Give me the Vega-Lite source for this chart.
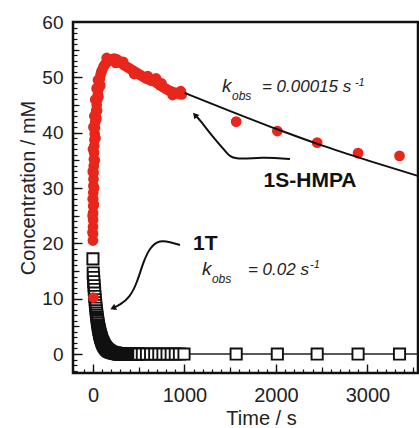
{
  "$schema": "https://vega.github.io/schema/vega-lite/v6.json",
  "width": 345,
  "height": 351,
  "autosize": {"type": "none"},
  "padding": {"left": 73, "top": 22, "right": 1, "bottom": 55},
  "background": "white",
  "config": {
    "view": {"stroke": "#111111", "strokeWidth": 2.5},
    "axis": {"grid": false, "domain": false, "labelFont": "Liberation Sans", "titleFont": "Liberation Sans", "tickColor": "#111111", "labelColor": "#222222", "titleColor": "#222222", "titleFontWeight": "normal", "labelOverlap": false, "labelFlush": false, "labelBound": false}
  },
  "resolve": {"axis": {"x": "independent", "y": "independent"}},
  "datasets": {
    "red": [
      {"t": 0, "c": 20.5}, {"t": 1, "c": 21.7}, {"t": 1, "c": 23}, {"t": 2, "c": 24.2}, {"t": 2, "c": 25.5}, {"t": 3, "c": 26.7}, {"t": 3, "c": 28}, {"t": 4, "c": 29.2}, {"t": 5, "c": 30.4}, {"t": 6, "c": 31.6}, {"t": 7, "c": 32.8}, {"t": 9, "c": 34}, {"t": 10, "c": 35.2}, {"t": 12, "c": 36.4}, {"t": 14, "c": 37.6}, {"t": 16, "c": 38.7}, {"t": 19, "c": 39.8}, {"t": 22, "c": 40.9}, {"t": 26, "c": 42}, {"t": 30, "c": 43}, {"t": 35, "c": 44}, {"t": 41, "c": 45}, {"t": 47, "c": 46}, {"t": 54, "c": 47}, {"t": 61, "c": 48}, {"t": 68, "c": 48.9}, {"t": 76, "c": 49.8}, {"t": 84, "c": 50.5}, {"t": 92, "c": 51},
      {"t": -5, "c": 22}, {"t": -4, "c": 25}, {"t": -3, "c": 28}, {"t": 10, "c": 27}, {"t": 12, "c": 30}, {"t": -2, "c": 33}, {"t": 20, "c": 35}, {"t": 0, "c": 37}, {"t": 28, "c": 39}, {"t": 5, "c": 41}, {"t": 15, "c": 43}, {"t": 38, "c": 42.5}, {"t": 25, "c": 46}, {"t": 45, "c": 44}, {"t": 40, "c": 48}, {"t": 60, "c": 46.5}, {"t": 55, "c": 49.5}, {"t": 80, "c": 48.5},
      {"t": 100, "c": 51.3}, {"t": 115, "c": 51.9}, {"t": 130, "c": 52.3}, {"t": 150, "c": 52.7}, {"t": 170, "c": 53.0}, {"t": 190, "c": 53.2}, {"t": 210, "c": 53.3}, {"t": 230, "c": 53.4}, {"t": 255, "c": 53.3}, {"t": 280, "c": 53.0}, {"t": 310, "c": 52.6}, {"t": 340, "c": 52.2}, {"t": 370, "c": 51.9}, {"t": 400, "c": 51.6}, {"t": 430, "c": 51.3}, {"t": 460, "c": 51.0}, {"t": 490, "c": 50.7}, {"t": 520, "c": 50.4}, {"t": 550, "c": 50.1}, {"t": 580, "c": 49.8}, {"t": 610, "c": 49.6}, {"t": 640, "c": 49.4}, {"t": 670, "c": 49.3}, {"t": 700, "c": 49.0}, {"t": 730, "c": 48.6}, {"t": 760, "c": 48.3}, {"t": 790, "c": 48.0}, {"t": 820, "c": 47.7}, {"t": 850, "c": 47.5}, {"t": 880, "c": 47.3}, {"t": 910, "c": 47.2}, {"t": 940, "c": 47.0}, {"t": 970, "c": 46.9},
      {"t": 150, "c": 53.5}, {"t": 250, "c": 52.6}, {"t": 330, "c": 52.8}, {"t": 450, "c": 50.6}, {"t": 600, "c": 50.2}, {"t": 690, "c": 49.8}, {"t": 750, "c": 48.9}, {"t": 870, "c": 46.8}, {"t": 960, "c": 47.5},
      {"t": 5, "c": 10.2},
      {"t": 1565, "c": 42.0}, {"t": 2015, "c": 40.3}, {"t": 2450, "c": 38.2}, {"t": 2897, "c": 36.3}, {"t": 3350, "c": 35.8}
    ],
    "black": [
      {"t": 0, "c": 17.2}, {"t": 3, "c": 14.64}, {"t": 6, "c": 13.83}, {"t": 9, "c": 13.06}, {"t": 12, "c": 12.34}, {"t": 15, "c": 11.66}, {"t": 18, "c": 11.01}, {"t": 21, "c": 10.4}, {"t": 24, "c": 9.82}, {"t": 27, "c": 9.28}, {"t": 30, "c": 8.77}, {"t": 33, "c": 8.28}, {"t": 36, "c": 7.82}, {"t": 39, "c": 7.39}, {"t": 42, "c": 6.98}, {"t": 45, "c": 6.59}, {"t": 48, "c": 6.23}, {"t": 51, "c": 5.88}, {"t": 54, "c": 5.56}, {"t": 57, "c": 5.25}, {"t": 60, "c": 4.96}, {"t": 63, "c": 4.68}, {"t": 66, "c": 4.42}, {"t": 69, "c": 4.18}, {"t": 72, "c": 3.95}, {"t": 75, "c": 3.73}, {"t": 78, "c": 3.52}, {"t": 81, "c": 3.33}, {"t": 84, "c": 3.14}, {"t": 87, "c": 2.97}, {"t": 90, "c": 2.8}, {"t": 94, "c": 2.6}, {"t": 98, "c": 2.41}, {"t": 102, "c": 2.23}, {"t": 106, "c": 2.07}, {"t": 110, "c": 1.92}, {"t": 115, "c": 1.74}, {"t": 120, "c": 1.59}, {"t": 125, "c": 1.44}, {"t": 130, "c": 1.31}, {"t": 136, "c": 1.17}, {"t": 142, "c": 1.04}, {"t": 148, "c": 0.93}, {"t": 155, "c": 0.82}, {"t": 162, "c": 0.71}, {"t": 170, "c": 0.61}, {"t": 178, "c": 0.53}, {"t": 186, "c": 0.45}, {"t": 195, "c": 0.38}, {"t": 204, "c": 0.32}, {"t": 213, "c": 0.27}, {"t": 222, "c": 0.23}, {"t": 232, "c": 0.19}, {"t": 242, "c": 0.16}, {"t": 252, "c": 0.13}, {"t": 262, "c": 0.1},
      {"t": 272, "c": 0}, {"t": 282, "c": 0}, {"t": 292, "c": 0}, {"t": 302, "c": 0}, {"t": 312, "c": 0}, {"t": 322, "c": 0}, {"t": 332, "c": 0}, {"t": 342, "c": 0}, {"t": 352, "c": 0}, {"t": 362, "c": 0}, {"t": 372, "c": 0}, {"t": 382, "c": 0}, {"t": 392, "c": 0}, {"t": 402, "c": 0}, {"t": 412, "c": 0}, {"t": 422, "c": 0}, {"t": 432, "c": 0}, {"t": 442, "c": 0}, {"t": 452, "c": 0}, {"t": 462, "c": 0}, {"t": 472, "c": 0}, {"t": 482, "c": 0}, {"t": 492, "c": 0}, {"t": 502, "c": 0},
      {"t": 540, "c": 0}, {"t": 585, "c": 0}, {"t": 630, "c": 0}, {"t": 675, "c": 0}, {"t": 720, "c": 0}, {"t": 765, "c": 0}, {"t": 810, "c": 0}, {"t": 855, "c": 0}, {"t": 900, "c": 0}, {"t": 945, "c": 0}, {"t": 995, "c": 0},
      {"t": 1565, "c": 0}, {"t": 2015, "c": 0}, {"t": 2450, "c": 0}, {"t": 2897, "c": 0}, {"t": 3350, "c": 0}
    ],
    "fit1S": [
      {"t": 1000, "c": 47.2}, {"t": 1500, "c": 43.9}, {"t": 2000, "c": 40.7}, {"t": 2500, "c": 37.7}, {"t": 3000, "c": 35.0}, {"t": 3550, "c": 32.2}
    ],
    "fit1T": [
      {"t": 995, "c": 0}, {"t": 3550, "c": 0}
    ],
    "arrow1": [
      {"t": 2153, "c": 35.24}, {"t": 1858, "c": 35.6}, {"t": 1530, "c": 35.06}, {"t": 1464, "c": 36.33}, {"t": 1311, "c": 39.2}, {"t": 1169, "c": 42.3}, {"t": 1115, "c": 43.2}
    ],
    "arrow2": [
      {"t": 951, "c": 19.7}, {"t": 842, "c": 20.24}, {"t": 732, "c": 20.6}, {"t": 623, "c": 19.34}, {"t": 546, "c": 16.45}, {"t": 481, "c": 12.83}, {"t": 404, "c": 10.3}, {"t": 295, "c": 8.86}, {"t": 219, "c": 8.3}
    ]
  },
  "layer": [
    {
      "data": {"name": "fit1T"},
      "mark": {"type": "point", "opacity": 0},
      "encoding": {
        "x": {"field": "t", "type": "quantitative", "scale": {"domain": [-218, 3552], "nice": false, "zero": false},
          "axis": {"orient": "bottom", "values": [0, 1000, 2000, 3000], "format": "d", "ticks": false, "labelFontSize": 20, "labelPadding": 12, "title": "Time / s", "titleFontSize": 20, "titleX": 188, "titleY": 51, "titleBaseline": "alphabetic"}},
        "y": {"field": "c", "type": "quantitative", "scale": {"domain": [-3.43, 60], "nice": false, "zero": false},
          "axis": {"orient": "left", "values": [0, 10, 20, 30, 40, 50, 60], "format": "d", "ticks": false, "labelFontSize": 19, "labelPadding": 10, "title": "Concentration / mM", "titleFontSize": 20, "titleX": -39, "titleY": 165.5, "titleBaseline": "alphabetic"}}
      }
    },
    {
      "data": {"name": "fit1T"},
      "mark": {"type": "point", "opacity": 0},
      "encoding": {
        "x": {"field": "t", "type": "quantitative", "axis": {"orient": "bottom", "values": [-100, 0, 100, 200, 300, 400, 500, 600, 700, 800, 900, 1000, 1100, 1200, 1300, 1400, 1500, 1600, 1700, 1800, 1900, 2000, 2100, 2200, 2300, 2400, 2500, 2600, 2700, 2800, 2900, 3000, 3100, 3200, 3300, 3400, 3500], "labels": false, "tickSize": -4, "tickWidth": 1.2, "title": null}},
        "y": {"field": "c", "type": "quantitative", "axis": {"orient": "left", "values": [-3, -2, -1, 0, 1, 2, 3, 4, 5, 6, 7, 8, 9, 10, 11, 12, 13, 14, 15, 16, 17, 18, 19, 20, 21, 22, 23, 24, 25, 26, 27, 28, 29, 30, 31, 32, 33, 34, 35, 36, 37, 38, 39, 40, 41, 42, 43, 44, 45, 46, 47, 48, 49, 50, 51, 52, 53, 54, 55, 56, 57, 58, 59], "labels": false, "tickSize": -4, "tickWidth": 1.2, "title": null}}
      }
    },
    {
      "data": {"name": "fit1T"},
      "mark": {"type": "point", "opacity": 0},
      "encoding": {
        "x": {"field": "t", "type": "quantitative", "axis": {"orient": "bottom", "values": [500, 1500, 2500, 3500], "labels": false, "tickSize": -6, "tickWidth": 1.2, "title": null}},
        "y": {"field": "c", "type": "quantitative", "axis": {"orient": "left", "values": [5, 15, 25, 35, 45, 55], "labels": false, "tickSize": -6, "tickWidth": 1.2, "title": null}}
      }
    },
    {
      "data": {"name": "fit1T"},
      "mark": {"type": "point", "opacity": 0},
      "encoding": {
        "x": {"field": "t", "type": "quantitative", "axis": {"orient": "bottom", "values": [0, 1000, 2000, 3000], "labels": false, "tickSize": -9, "tickWidth": 1.4, "title": null}},
        "y": {"field": "c", "type": "quantitative", "axis": {"orient": "left", "values": [0, 10, 20, 30, 40, 50], "labels": false, "tickSize": -9, "tickWidth": 1.4, "title": null}}
      }
    },
    {
      "data": {"name": "fit1T"},
      "mark": {"type": "line", "color": "#222222", "strokeWidth": 1.6},
      "encoding": {"x": {"field": "t", "type": "quantitative", "axis": null}, "y": {"field": "c", "type": "quantitative", "axis": null}}
    },
    {
      "data": {"name": "black"},
      "mark": {"type": "point", "shape": "square", "filled": false, "fill": "white", "fillOpacity": 1, "stroke": "#111111", "strokeWidth": 1.9, "size": 125, "opacity": 1},
      "encoding": {"x": {"field": "t", "type": "quantitative", "axis": null}, "y": {"field": "c", "type": "quantitative", "axis": null}}
    },
    {
      "data": {"name": "red"},
      "mark": {"type": "circle", "color": "#e8261c", "size": 115, "opacity": 1},
      "encoding": {"x": {"field": "t", "type": "quantitative", "axis": null}, "y": {"field": "c", "type": "quantitative", "axis": null}}
    },
    {
      "data": {"name": "fit1S"},
      "mark": {"type": "line", "color": "#111111", "strokeWidth": 2, "interpolate": "monotone"},
      "encoding": {"x": {"field": "t", "type": "quantitative", "axis": null}, "y": {"field": "c", "type": "quantitative", "axis": null}}
    },
    {
      "data": {"name": "arrow1"},
      "mark": {"type": "line", "color": "#111111", "strokeWidth": 2, "interpolate": "basis"},
      "encoding": {"x": {"field": "t", "type": "quantitative", "axis": null}, "y": {"field": "c", "type": "quantitative", "axis": null}}
    },
    {
      "data": {"name": "arrow2"},
      "mark": {"type": "line", "color": "#111111", "strokeWidth": 2, "interpolate": "basis"},
      "encoding": {"x": {"field": "t", "type": "quantitative", "axis": null}, "y": {"field": "c", "type": "quantitative", "axis": null}}
    },
    {
      "data": {"values": [{}]},
      "mark": {"type": "point", "shape": "triangle-up", "filled": true, "color": "#111111", "size": 45, "angle": -40, "opacity": 1},
      "encoding": {"x": {"datum": 1115, "type": "quantitative", "axis": null}, "y": {"datum": 43.2, "type": "quantitative", "axis": null}}
    },
    {
      "data": {"values": [{}]},
      "mark": {"type": "point", "shape": "triangle-up", "filled": true, "color": "#111111", "size": 45, "angle": 245, "opacity": 1},
      "encoding": {"x": {"datum": 219, "type": "quantitative", "axis": null}, "y": {"datum": 8.3, "type": "quantitative", "axis": null}}
    },
    {
      "data": {"values": [{}]},
      "mark": {"type": "text", "text": "k", "font": "Liberation Sans", "fontStyle": "italic", "fontSize": 19, "align": "left", "baseline": "alphabetic", "color": "#222222"},
      "encoding": {"x": {"datum": 1410, "type": "quantitative", "axis": null}, "y": {"datum": 47.35, "type": "quantitative", "axis": null}}
    },
    {
      "data": {"values": [{}]},
      "mark": {"type": "text", "text": "obs", "font": "Liberation Sans", "fontStyle": "italic", "fontSize": 12, "align": "left", "baseline": "alphabetic", "color": "#222222"},
      "encoding": {"x": {"datum": 1519, "type": "quantitative", "axis": null}, "y": {"datum": 45.9, "type": "quantitative", "axis": null}}
    },
    {
      "data": {"values": [{}]},
      "mark": {"type": "text", "text": "= 0.00015 s", "font": "Liberation Sans", "fontStyle": "italic", "fontSize": 17, "align": "left", "baseline": "alphabetic", "color": "#222222"},
      "encoding": {"x": {"datum": 1847, "type": "quantitative", "axis": null}, "y": {"datum": 47.35, "type": "quantitative", "axis": null}}
    },
    {
      "data": {"values": [{}]},
      "mark": {"type": "text", "text": "-1", "font": "Liberation Sans", "fontStyle": "italic", "fontSize": 11, "align": "left", "baseline": "alphabetic", "color": "#222222"},
      "encoding": {"x": {"datum": 2863, "type": "quantitative", "axis": null}, "y": {"datum": 48.4, "type": "quantitative", "axis": null}}
    },
    {
      "data": {"values": [{}]},
      "mark": {"type": "text", "text": "1S-HMPA", "font": "Liberation Sans", "fontWeight": "bold", "fontSize": 21, "align": "center", "baseline": "alphabetic", "color": "#111111"},
      "encoding": {"x": {"datum": 2372, "type": "quantitative", "axis": null}, "y": {"datum": 30.2, "type": "quantitative", "axis": null}}
    },
    {
      "data": {"values": [{}]},
      "mark": {"type": "text", "text": "1T", "font": "Liberation Sans", "fontWeight": "bold", "fontSize": 21, "align": "left", "baseline": "alphabetic", "color": "#111111"},
      "encoding": {"x": {"datum": 1093, "type": "quantitative", "axis": null}, "y": {"datum": 18.8, "type": "quantitative", "axis": null}}
    },
    {
      "data": {"values": [{}]},
      "mark": {"type": "text", "text": "k", "font": "Liberation Sans", "fontStyle": "italic", "fontSize": 19, "align": "left", "baseline": "alphabetic", "color": "#222222"},
      "encoding": {"x": {"datum": 1191, "type": "quantitative", "axis": null}, "y": {"datum": 14.28, "type": "quantitative", "axis": null}}
    },
    {
      "data": {"values": [{}]},
      "mark": {"type": "text", "text": "obs", "font": "Liberation Sans", "fontStyle": "italic", "fontSize": 12, "align": "left", "baseline": "alphabetic", "color": "#222222"},
      "encoding": {"x": {"datum": 1300, "type": "quantitative", "axis": null}, "y": {"datum": 12.83, "type": "quantitative", "axis": null}}
    },
    {
      "data": {"values": [{}]},
      "mark": {"type": "text", "text": "= 0.02 s", "font": "Liberation Sans", "fontStyle": "italic", "fontSize": 17, "align": "left", "baseline": "alphabetic", "color": "#222222"},
      "encoding": {"x": {"datum": 1694, "type": "quantitative", "axis": null}, "y": {"datum": 14.28, "type": "quantitative", "axis": null}}
    },
    {
      "data": {"values": [{}]},
      "mark": {"type": "text", "text": "-1", "font": "Liberation Sans", "fontStyle": "italic", "fontSize": 11, "align": "left", "baseline": "alphabetic", "color": "#222222"},
      "encoding": {"x": {"datum": 2372, "type": "quantitative", "axis": null}, "y": {"datum": 15.5, "type": "quantitative", "axis": null}}
    }
  ]
}
